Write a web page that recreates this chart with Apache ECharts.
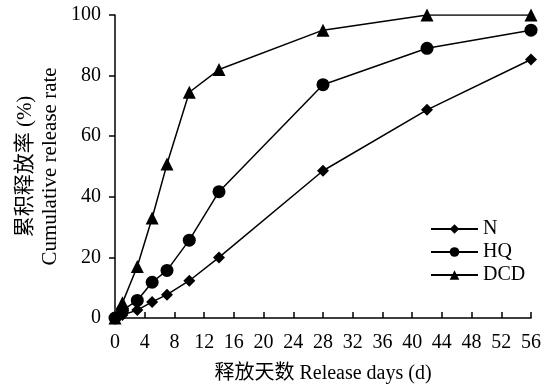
<!DOCTYPE html>
<html>
<head>
<meta charset="utf-8">
<script src="https://cdn.jsdelivr.net/npm/echarts@6/dist/echarts.min.js"></script>
<style>
  html, body { margin: 0; padding: 0; background: #fff; }
  #chart { width: 550px; height: 390px; }
</style>
</head>
<body>
<div id="chart"></div>
<script>
// release days (d)
var days = [0, 1, 3, 5, 7, 10, 14, 28, 42, 56];
// cumulative release rate (%)
var nRate = [0, 1, 2.6, 5.3, 7.7, 12.3, 20, 48.6, 68.7, 85.3];
var hqRate = [0, 2.5, 5.8, 11.8, 15.7, 25.7, 41.7, 77, 89, 95];
var dcdRate = [0, 5, 17, 33, 50.8, 74.5, 82, 95, 100, 100];

var seriesNames = ['N', 'HQ', 'DCD'];
var seriesSymbols = ['diamond', 'circle', 'triangle'];
var seriesSizes = [12, 13, 13];
var seriesData = [nRate, hqRate, dcdRate];

var fontFamily = '"Liberation Serif", "Times New Roman", "Noto Sans CJK SC", serif';

function pairs(values) {
    var out = [];
    for (var i = 0; i < days.length; i++) {
        out.push([days[i], values[i]]);
    }
    return out;
}

var series = [];
for (var s = 0; s < seriesNames.length; s++) {
    series.push({
        name: seriesNames[s],
        type: 'line',
        data: pairs(seriesData[s]),
        symbol: seriesSymbols[s],
        symbolSize: seriesSizes[s],
        showAllSymbol: true,
        lineStyle: { color: '#000', width: 1.5 },
        itemStyle: { color: '#000' },
        z: 3 - s
    });
}

var myChart = echarts.init(document.getElementById('chart'));
myChart.setOption({
    animation: false,
    backgroundColor: '#fff',
    textStyle: { fontFamily: fontFamily, color: '#000' },
    grid: { left: 115, right: 19, top: 15, bottom: 72, containLabel: false },
    legend: {
        orient: 'vertical',
        left: 425,
        top: 214,
        itemWidth: 47,
        itemHeight: 12,
        itemGap: 3,
        data: seriesNames,
        textStyle: { fontFamily: fontFamily, fontSize: 20, color: '#000' }
    },
    xAxis: {
        type: 'value',
        min: 0,
        max: 56,
        interval: 4,
        name: '释放天数 Release days (d)',
        nameLocation: 'middle',
        nameGap: 46,
        nameMoveOverlap: false,
        nameTextStyle: { fontFamily: fontFamily, fontSize: 20, color: '#000' },
        axisLine: { show: true, onZero: false, lineStyle: { color: '#000', width: 1.5 } },
        axisTick: { show: true, inside: true, length: 6, lineStyle: { color: '#000', width: 1.5 } },
        axisLabel: { fontFamily: fontFamily, fontSize: 20, color: '#000', margin: 15 },
        splitLine: { show: false }
    },
    yAxis: {
        type: 'value',
        min: 0,
        max: 100,
        interval: 20,
        name: '累积释放率 (%)\nCumulative release rate',
        nameLocation: 'middle',
        nameRotate: 90,
        nameGap: 52,
        nameMoveOverlap: false,
        nameTextStyle: { fontFamily: fontFamily, fontSize: 21, color: '#000', lineHeight: 25 },
        axisLine: { show: true, onZero: false, lineStyle: { color: '#000', width: 1.5 } },
        axisTick: { show: true, inside: false, length: 6, lineStyle: { color: '#000', width: 1.5 } },
        axisLabel: { fontFamily: fontFamily, fontSize: 20, color: '#000', margin: 14 },
        splitLine: { show: false }
    },
    series: series
});
</script>
</body>
</html>
